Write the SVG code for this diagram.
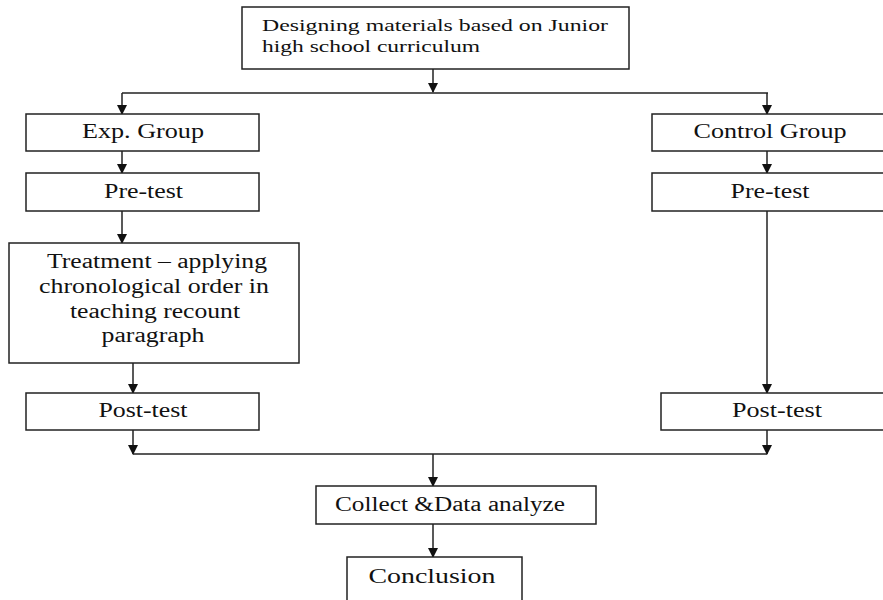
<svg xmlns="http://www.w3.org/2000/svg" width="883" height="600" viewBox="0 0 883 600">
<defs>
<style>
.box{fill:#fff;stroke:#222;stroke-width:1.5}
text{font-family:'Liberation Serif',serif;fill:#111}
.t{font-size:20px;text-anchor:middle}
.ts{font-size:17px}
.c{fill:none;stroke:#222;stroke-width:1.5}
</style>
<marker id="a" markerUnits="userSpaceOnUse" markerWidth="10" markerHeight="10" refX="9" refY="5" orient="auto" viewBox="0 0 10 10">
<path d="M0,0 L10,5 L0,10 Z" fill="#111"/>
</marker>
</defs>
<rect width="883" height="600" fill="#fff"/>
<g id="connectors">
<line class="c" x1="433" y1="69" x2="433" y2="92" marker-end="url(#a)"/>
<line class="c" x1="122" y1="93" x2="768" y2="93"/>
<line class="c" x1="122" y1="93" x2="122" y2="114" marker-end="url(#a)"/>
<line class="c" x1="767" y1="93" x2="767" y2="114" marker-end="url(#a)"/>
<line class="c" x1="122" y1="151" x2="122" y2="173" marker-end="url(#a)"/>
<line class="c" x1="767" y1="151" x2="767" y2="173" marker-end="url(#a)"/>
<line class="c" x1="122" y1="211" x2="122" y2="243" marker-end="url(#a)"/>
<line class="c" x1="767" y1="211" x2="767" y2="393" marker-end="url(#a)"/>
<line class="c" x1="133" y1="363" x2="133" y2="393" marker-end="url(#a)"/>
<line class="c" x1="133" y1="430" x2="133" y2="454" marker-end="url(#a)"/>
<line class="c" x1="767" y1="430" x2="767" y2="454" marker-end="url(#a)"/>
<line class="c" x1="133" y1="454" x2="767" y2="454"/>
<line class="c" x1="433" y1="454" x2="433" y2="486" marker-end="url(#a)"/>
<line class="c" x1="433" y1="524" x2="433" y2="557" marker-end="url(#a)"/>
</g>
<g id="design">
<rect class="box" x="242" y="7" width="387" height="62"/>
<text class="ts" x="262" y="31" textLength="346" lengthAdjust="spacingAndGlyphs">Designing materials based on Junior</text>
<text class="ts" x="262" y="52" textLength="218" lengthAdjust="spacingAndGlyphs">high school curriculum</text>
</g>
<g id="exp-group">
<rect class="box" x="26" y="114" width="233" height="37"/>
<text class="t" x="143" y="138" textLength="122" lengthAdjust="spacingAndGlyphs">Exp. Group</text>
</g>
<g id="exp-pretest">
<rect class="box" x="26" y="173" width="233" height="38"/>
<text class="t" x="143.5" y="198" textLength="79" lengthAdjust="spacingAndGlyphs">Pre-test</text>
</g>
<g id="treatment">
<rect class="box" x="9" y="243" width="290" height="120"/>
<text class="t" x="157" y="268" textLength="220" lengthAdjust="spacingAndGlyphs">Treatment – applying</text>
<text class="t" x="154" y="293" textLength="230" lengthAdjust="spacingAndGlyphs">chronological order in</text>
<text class="t" x="155" y="318" textLength="170" lengthAdjust="spacingAndGlyphs">teaching recount</text>
<text class="t" x="153" y="342" textLength="103" lengthAdjust="spacingAndGlyphs">paragraph</text>
</g>
<g id="exp-posttest">
<rect class="box" x="26" y="393" width="233" height="37"/>
<text class="t" x="143" y="417" textLength="89" lengthAdjust="spacingAndGlyphs">Post-test</text>
</g>
<g id="control-group">
<rect class="box" x="652" y="114" width="240" height="37"/>
<text class="t" x="770" y="138" textLength="153" lengthAdjust="spacingAndGlyphs">Control Group</text>
</g>
<g id="control-pretest">
<rect class="box" x="652" y="173" width="240" height="38"/>
<text class="t" x="770" y="198" textLength="79" lengthAdjust="spacingAndGlyphs">Pre-test</text>
</g>
<g id="control-posttest">
<rect class="box" x="661" y="393" width="231" height="37"/>
<text class="t" x="777" y="417" textLength="90" lengthAdjust="spacingAndGlyphs">Post-test</text>
</g>
<g id="collect">
<rect class="box" x="316" y="486" width="280" height="38"/>
<text class="t" x="450" y="511" textLength="230" lengthAdjust="spacingAndGlyphs">Collect &amp;Data analyze</text>
</g>
<g id="conclusion">
<rect class="box" x="347" y="557" width="175" height="60"/>
<text class="t" x="432" y="583" textLength="127" lengthAdjust="spacingAndGlyphs">Conclusion</text>
</g>
</svg>
